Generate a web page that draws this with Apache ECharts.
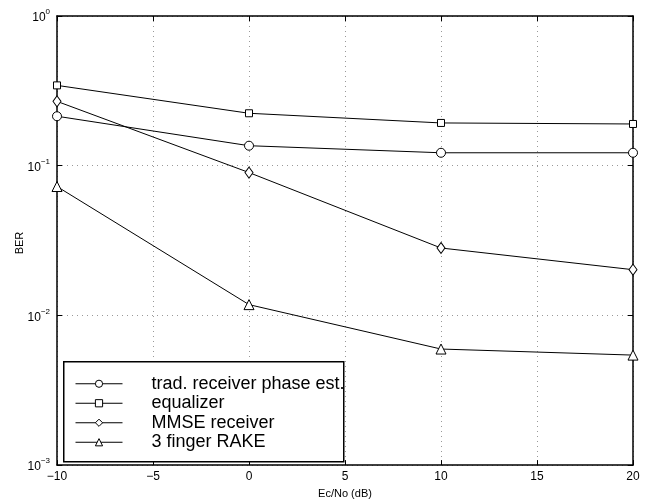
<!DOCTYPE html>
<html><head><meta charset="utf-8">
<script src="https://cdn.jsdelivr.net/npm/echarts@6/dist/echarts.min.js"></script>
<style>html,body{margin:0;padding:0;background:#fff}#c{width:655px;height:504px}</style>
</head><body><div id="c"></div>
<script>
const xValues = [-10, 0, 10, 20];
const tradValues = [0.214, 0.136, 0.122, 0.122];
const equalizerValues = [0.344, 0.224, 0.193, 0.190];
const mmseValues = [0.269, 0.090, 0.0282, 0.0202];
const rakeValues = [0.0726, 0.0118, 0.00596, 0.00543];
const seriesNames = ['trad. receiver phase est.', 'equalizer', 'MMSE receiver', '3 finger RAKE'];
const xTicks = [-10, -5, 0, 5, 10, 15, 20];
const yTicks = [0.001, 0.01, 0.1, 1];

const FONT = 'Liberation Sans, Arial, Helvetica, sans-serif';
const chart = echarts.init(document.getElementById('c'));
const pair = (ys) => xValues.map((x, i) => [x, ys[i]]);
const symbols = ['circle', 'rect', 'diamond', 'triangle'];
const sizes = [9, 7, [8, 11], 10];
const allY = [tradValues, equalizerValues, mmseValues, rakeValues];

const minus = (v) => String(v).replace('-', '\u2212');
const expLabel = (v) => {
  const e = Math.round(Math.log10(v));
  return '{a|10}{b|' + minus(e) + '}';
};

const axisCommon = {
  axisLine: { show: true, onZero: false, lineStyle: { color: '#000', width: 1.5 } },
  axisTick: { show: true, inside: true, length: 5, lineStyle: { color: '#000' } },
};

chart.setOption({
  animation: false,
  backgroundColor: '#fff',
  textStyle: { fontFamily: FONT },
  grid: { left: 57, right: 22, top: 16, bottom: 35, show: false },
  xAxis: [{
    type: 'value', min: xTicks[0], max: xTicks[xTicks.length - 1], interval: 5,
    position: 'bottom',
    name: 'Ec/No (dB)', nameLocation: 'middle', nameGap: 22,
    nameTextStyle: { color: '#000', fontSize: 11, fontFamily: FONT },
    ...axisCommon,
    axisLabel: { color: '#000', fontSize: 12, fontFamily: FONT, margin: 6, formatter: minus },
    splitLine: { show: true, lineStyle: { color: '#999', type: [1, 4], width: 1 } }
  }, {
    type: 'value', min: xTicks[0], max: xTicks[xTicks.length - 1], interval: 5,
    position: 'top', ...axisCommon,
    axisLabel: { show: false }, splitLine: { show: false }
  }],
  yAxis: [{
    type: 'log', logBase: 10, min: yTicks[0], max: yTicks[yTicks.length - 1],
    position: 'left',
    ...axisCommon,
    axisLabel: {
      color: '#000', margin: 7, formatter: expLabel,
      rich: {
        a: { fontSize: 12, fontFamily: FONT, color: '#000', padding: [4, 0, 0, 0] },
        b: { fontSize: 8, fontFamily: FONT, color: '#000', verticalAlign: 'top' }
      }
    },
    splitLine: { show: true, lineStyle: { color: '#999', type: [1, 4], width: 1 } },
    minorTick: { show: false }
  }, {
    type: 'log', logBase: 10, min: yTicks[0], max: yTicks[yTicks.length - 1],
    position: 'right', ...axisCommon,
    axisLabel: { show: false }, splitLine: { show: false }
  }],
  legend: {
    left: 75, top: 374, orient: 'vertical',
    itemWidth: 47, itemHeight: 9, itemGap: 0, padding: 0,
    z: 20,
    itemStyle: { borderWidth: 1, borderColor: '#000', color: '#fff' },
    lineStyle: { width: 1, color: '#000' },
    textStyle: { color: '#000', fontSize: 18, fontFamily: FONT, padding: [0, 0, 0, 24], lineHeight: 19.5 },
    data: seriesNames
  },
  graphic: [{
    type: 'rect', z: 10, left: 63, top: 361,
    shape: { width: 280, height: 100 },
    style: { fill: '#fff', stroke: '#000', lineWidth: 1.5 }
  }, {
    type: 'text', x: 20, y: 243, rotation: Math.PI / 2,
    style: { text: 'BER', fill: '#000', font: '11px ' + FONT, align: 'center', verticalAlign: 'middle' }
  }],
  series: seriesNames.map((n, i) => ({
    name: n, type: 'line', data: pair(allY[i]),
    xAxisIndex: 0, yAxisIndex: 0,
    symbol: symbols[i], symbolSize: sizes[i], showAllSymbol: true,
    lineStyle: { color: '#000', width: 1 },
    itemStyle: { color: '#fff', borderColor: '#000', borderWidth: 1 },
    emphasis: { disabled: true }
  }))
});
</script></body></html>
